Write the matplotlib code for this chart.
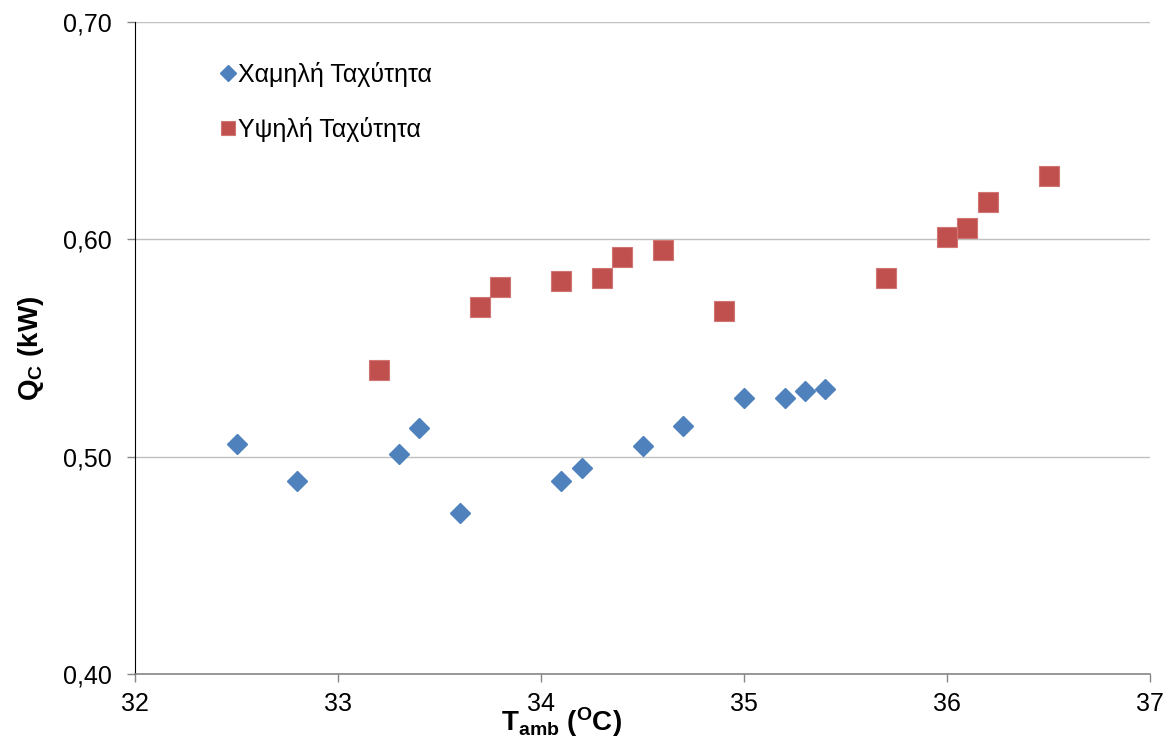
import numpy as np
import matplotlib.pyplot as plt
from matplotlib.ticker import FuncFormatter

# Données mesurées : Q_C (kW) en fonction de la température ambiante
t_basse = [32.5, 32.8, 33.3, 33.4, 33.6, 34.1, 34.2, 34.5, 34.7, 35.0, 35.2, 35.3, 35.4]
q_basse = [0.506, 0.489, 0.501, 0.513, 0.474, 0.489, 0.495, 0.505, 0.514, 0.527, 0.527, 0.530, 0.531]

t_haute = [33.2, 33.7, 33.8, 34.1, 34.3, 34.4, 34.6, 34.9, 35.7, 36.0, 36.1, 36.2, 36.5]
q_haute = [0.540, 0.569, 0.578, 0.581, 0.582, 0.592, 0.595, 0.567, 0.582, 0.601, 0.605, 0.617, 0.629]

noms = ["Χαμηλή Ταχύτητα", "Υψηλή Ταχύτητα"]

plt.rcParams['font.family'] = ['Liberation Sans', 'DejaVu Sans']
plt.rcParams['mathtext.fontset'] = 'custom'
plt.rcParams['mathtext.rm'] = 'Liberation Sans'
plt.rcParams['mathtext.bf'] = 'Liberation Sans:bold'

fig = plt.figure(figsize=(11.73, 7.40), dpi=100)
ax = fig.add_axes([135/1173, 1 - 674/740, (1150-135)/1173, (674-22)/740])

ax.plot(t_basse, q_basse, linestyle='none', marker='D', markersize=10.5,
        color='#4F81BD', markeredgecolor='#4F81BD', label=noms[0], zorder=3)
ax.plot(t_haute, q_haute, linestyle='none', marker='s', markersize=14,
        color='#C0504D', markeredgecolor='#D07573', markeredgewidth=0.8,
        label=noms[1], zorder=3)

ax.set_xlim(32, 37)
ax.set_ylim(0.40, 0.70)
ax.set_xticks(np.arange(32, 38, 1))
ax.set_yticks([0.40, 0.50, 0.60, 0.70])
ax.yaxis.set_major_formatter(FuncFormatter(lambda v, p: f"{v:.2f}".replace('.', ',')))

ax.yaxis.grid(True, color='#C0C0C0', linewidth=1)
ax.set_axisbelow(True)
for s in ['top', 'right']:
    ax.spines[s].set_visible(False)
ax.spines['left'].set_color('black')
ax.spines['bottom'].set_color('#868686')
ax.spines['bottom'].set_linewidth(1.2)

ax.tick_params(axis='y', direction='out', length=6, width=1, pad=11, labelsize=18, color='#868686')
ax.tick_params(axis='x', direction='out', length=6, width=1, pad=7, labelsize=18, color='#868686')

ax.set_ylabel(r'$\mathbf{Q_C}$ (kW)', fontsize=20, fontweight='bold', labelpad=12)
fig.text(561/1173, 1 - 722/740, r'$\mathbf{T_{amb}}$ ($\mathbf{^{O}}$C)', fontsize=20,
         fontweight='bold', ha='center', va='center')

leg = ax.legend(loc='upper left', bbox_to_anchor=(0.057, 0.973), frameon=False,
                fontsize=18, handletextpad=-0.1, labelspacing=1.2,
                handlelength=1.0, markerscale=0.75)

plt.savefig('out.png', dpi=100)
